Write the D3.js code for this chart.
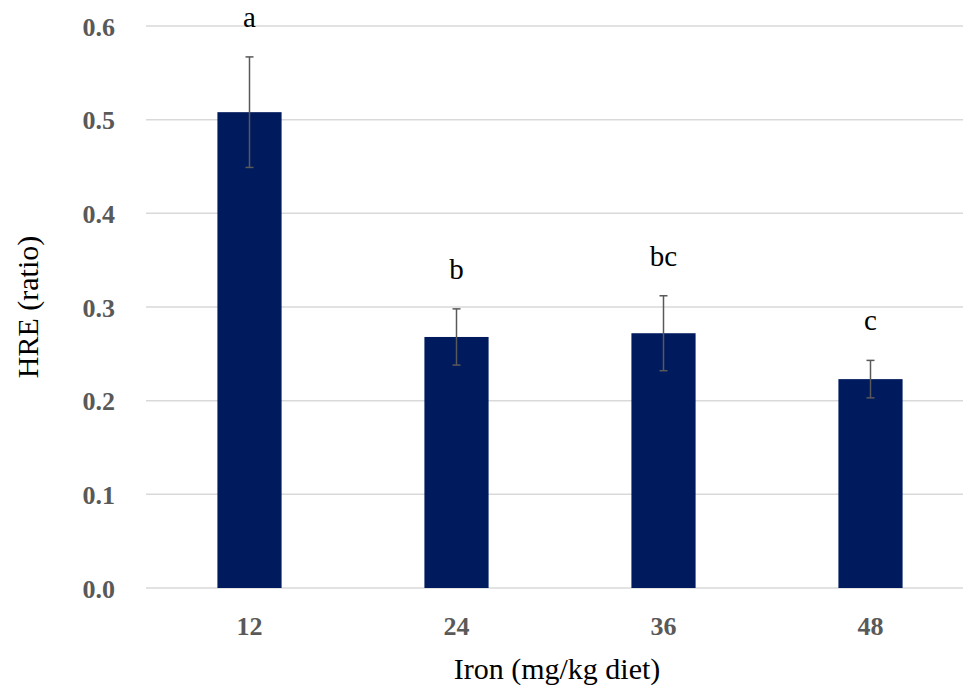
<!DOCTYPE html>
<html>
<head>
<meta charset="UTF-8">
<title></title>
<style>
  * {padding:0; margin:0;}
  body {background:#fff;}
  .grid line {stroke:#d9d9d9; stroke-width:1.5px;}
  .tick text {font-family:"Liberation Serif", serif; font-weight:bold; font-size:26px; fill:#595959;}
  .bar {fill:#001a5e;}
  .err {stroke:#595959; stroke-width:1.5px;}
  .letter {font-family:"Liberation Serif", serif; font-size:29px; text-anchor:middle; fill:#000;}
  .title {font-family:"Liberation Serif", serif; font-size:30px; fill:#000; text-anchor:middle;}
</style>
</head>
<body>
<script src="https://d3js.org/d3.v7.min.js"></script>
<svg id="chart" width="963" height="686"></svg>
<script>
var categories = ["12", "24", "36", "48"];
var values = [0.508, 0.268, 0.272, 0.223];
var errors = [0.059, 0.030, 0.040, 0.020];
var letters = ["a", "b", "bc", "c"];
var yTicks = [0, 0.1, 0.2, 0.3, 0.4, 0.5, 0.6];

var svg = d3.select("#chart");
var plotLeft = 146, plotRight = 974, plotTop = 26, plotBottom = 588;

var x = d3.scaleBand().domain(categories).range([plotLeft, plotRight]).paddingInner(0.69).paddingOuter(0.345);
var y = d3.scaleLinear().domain([0, 0.6]).range([plotBottom, plotTop]);

// gridlines
svg.append("g").attr("class", "grid")
  .selectAll("line").data(yTicks).enter().append("line")
  .attr("x1", plotLeft).attr("x2", plotRight)
  .attr("y1", function(d){ return y(d); })
  .attr("y2", function(d){ return y(d); });

// y axis labels
var yAxis = svg.append("g")
  .attr("transform", "translate(" + (plotLeft - 28) + ",0)")
  .call(d3.axisLeft(y).tickValues(yTicks).tickFormat(d3.format(".1f")).tickSize(0));
yAxis.select(".domain").remove();
yAxis.selectAll("text").attr("dy", "0.35em");

// x axis labels
var xAxis = svg.append("g")
  .attr("transform", "translate(0," + (plotBottom + 24) + ")")
  .call(d3.axisBottom(x).tickSize(0));
xAxis.select(".domain").remove();
xAxis.selectAll("text").attr("dy", "0.75em");

// bars
svg.selectAll(".bar").data(values).enter().append("rect")
  .attr("class", "bar")
  .attr("x", function(d, i){ return x(categories[i]); })
  .attr("width", x.bandwidth())
  .attr("y", function(d){ return y(d); })
  .attr("height", function(d){ return plotBottom - y(d); });

// error bars
var cx = function(i){ return x(categories[i]) + x.bandwidth() / 2; };
var eg = svg.append("g").attr("class", "err");
values.forEach(function(v, i){
  var c = cx(i), hi = y(v + errors[i]), lo = y(v - errors[i]);
  eg.append("line").attr("x1", c).attr("x2", c).attr("y1", hi).attr("y2", lo);
  eg.append("line").attr("x1", c - 4).attr("x2", c + 4).attr("y1", hi).attr("y2", hi);
  eg.append("line").attr("x1", c - 4).attr("x2", c + 4).attr("y1", lo).attr("y2", lo);
});

// significance letters
svg.selectAll(".letter").data(letters).enter().append("text")
  .attr("class", "letter")
  .attr("x", function(d, i){ return cx(i); })
  .attr("y", function(d, i){ return y(values[i] + errors[i]) - 30; })
  .text(function(d){ return d; });

// axis titles
svg.append("text").attr("class", "title")
  .attr("transform", "translate(38," + ((plotTop + plotBottom) / 2) + ") rotate(-90)")
  .text("HRE (ratio)");
svg.append("text").attr("class", "title")
  .attr("x", 557).attr("y", 679)
  .text("Iron (mg/kg diet)");
</script>
</body>
</html>
